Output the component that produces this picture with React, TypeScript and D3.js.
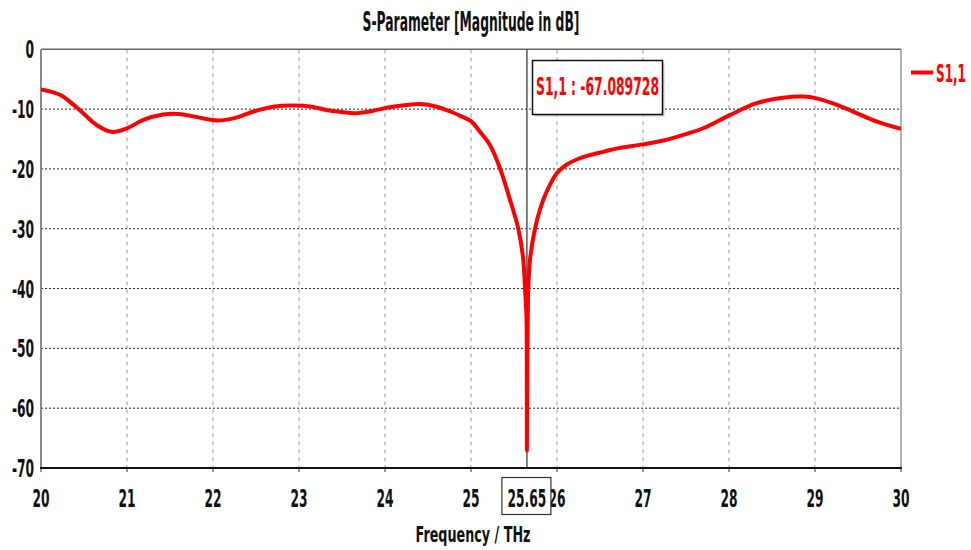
import React from 'react';
import * as d3 from 'd3';

// S1,1 magnitude (THz, dB)
const freq = [
  20.0, 20.22, 20.38, 20.49, 20.65, 20.82, 21.0, 21.19, 21.42, 21.6, 21.8, 22.06,
  22.25, 22.47, 22.7, 22.93, 23.15, 23.32, 23.5, 23.65, 23.85, 24.05, 24.25, 24.41,
  24.6, 24.76, 24.9, 25.0, 25.1, 25.22, 25.34, 25.45, 25.55, 25.608, 25.628,
  25.645, 25.649, 25.65, 25.655, 25.66, 25.666, 25.686, 25.744, 25.8, 25.88, 26.0,
  26.11, 26.25, 26.38, 26.55, 26.69, 27.0, 27.25, 27.47, 27.7, 28.01, 28.32, 28.63,
  28.86, 29.02, 29.2, 29.41, 29.72, 30.0,
];
const s11 = [
  -6.7, -7.6, -9.3, -10.7, -12.7, -13.8, -13.2, -11.8, -10.9, -10.8, -11.3, -11.9,
  -11.5, -10.4, -9.6, -9.4, -9.6, -10.15, -10.5, -10.7, -10.3, -9.7, -9.3, -9.15,
  -9.6, -10.4, -11.3, -12.0, -13.7, -16.0, -20.0, -25.0, -30.0, -35.2, -40.0,
  -44.7, -55.0, -67.089728, -54.0, -44.7, -40.0, -35.2, -30.0, -26.9, -23.8, -20.7,
  -19.3, -18.3, -17.7, -17.1, -16.6, -15.9, -15.2, -14.3, -13.2, -11.0, -9.0, -8.1,
  -7.9, -8.2, -9.0, -10.2, -12.1, -13.3,
];

const xTicks = [20, 21, 22, 23, 24, 25, 26, 27, 28, 29, 30];
const yTicks = [0, -10, -20, -30, -40, -50, -60, -70];
const markerFreq = 25.65;
const markerValue = -67.089728;

const FONT = "'DejaVu Sans', sans-serif";
const NUM_SX = 0.49;

function Num({ x, y, anchor, children }: { x: number; y: number; anchor: string; children: React.ReactNode }) {
  return (
    <text
      transform={`translate(${x},${y}) scale(${NUM_SX},1)`}
      textAnchor={anchor}
      fontFamily={FONT}
      fontWeight="bold"
      fontSize={25}
      fill="#111"
    >
      {children}
    </text>
  );
}

export default function App() {
  const left = 41, right = 901, top = 49.3, bottom = 468;
  const x = d3.scaleLinear().domain([20, 30]).range([left, right]);
  const y = d3.scaleLinear().domain([0, -70]).range([top, bottom]);

  const pts = freq.map((f, i) => [f, s11[i]] as [number, number]);
  const line = d3
    .line<[number, number]>()
    .x((d) => x(d[0]))
    .y((d) => y(d[1]))
    .curve(d3.curveCatmullRom.alpha(0.5));

  const mx = x(markerFreq);

  return (
    <svg
      width={971}
      height={550}
      style={{ position: 'absolute', left: 0, top: 0, background: '#fff' }}
    >
      <defs>
        <clipPath id="plot">
          <rect x={left} y={top - 3} width={right - left} height={bottom - top + 3} />
        </clipPath>
      </defs>

      <text
        x={471}
        y={31}
        textAnchor="middle"
        fontFamily={FONT}
        fontWeight="bold"
        fontSize={26}
        textLength={217}
        lengthAdjust="spacingAndGlyphs"
        fill="#111"
      >
        S-Parameter [Magnitude in dB]
      </text>

      {/* grid */}
      {yTicks.slice(1, -1).map((t) => (
        <line key={'h' + t} x1={left} x2={right} y1={y(t)} y2={y(t)} stroke="#222" strokeWidth={1} strokeDasharray="2,2" />
      ))}
      {xTicks.slice(1, -1).map((t) => (
        <line key={'v' + t} x1={x(t)} x2={x(t)} y1={top} y2={bottom} stroke="#999" strokeWidth={1} strokeDasharray="4,4" />
      ))}

      {/* frame */}
      <line x1={left} x2={right} y1={top} y2={top} stroke="#666" strokeWidth={1.5} />
      <line x1={right} x2={right} y1={top} y2={bottom} stroke="#999" strokeWidth={1.5} />
      <line x1={left} x2={left} y1={top} y2={bottom} stroke="#888" strokeWidth={2} />

      {/* marker line */}
      <line x1={mx} x2={mx} y1={top} y2={bottom} stroke="#555" strokeWidth={1.5} />

      <path d={line(pts) ?? ''} fill="none" stroke="#ff0000" strokeWidth={4} strokeLinejoin="round" clipPath="url(#plot)" />

      <line x1={left - 1} x2={right + 1} y1={bottom} y2={bottom} stroke="#111" strokeWidth={2} />
      {xTicks.map((t) => (
        <line key={'t' + t} x1={x(t)} x2={x(t)} y1={bottom} y2={bottom + 4} stroke="#333" strokeWidth={1} />
      ))}

      {/* y tick labels */}
      {yTicks.map((t) => (
        <Num key={'yl' + t} x={34} y={y(t) + 9} anchor="end">
          {String(t)}
        </Num>
      ))}

      {/* x tick labels */}
      {xTicks.map((t) => (
        <Num key={'xl' + t} x={x(t)} y={507} anchor="middle">
          {String(t)}
        </Num>
      ))}

      {/* marker frequency label */}
      <rect x={mx - 25} y={477.5} width={49} height={37} fill="#fff" stroke="#333" strokeWidth={1.2} />
      <Num x={mx} y={507} anchor="middle">
        {String(markerFreq)}
      </Num>

      {/* marker value box */}
      <rect x={534.5} y={62.5} width={130} height={54} fill="#ccc" />
      <rect x={532.5} y={60.5} width={130} height={54} fill="#fff" stroke="#111" strokeWidth={1.5} />
      <text
        x={597.5}
        y={95}
        textAnchor="middle"
        fontFamily={FONT}
        fontWeight="bold"
        fontSize={25}
        textLength={123}
        lengthAdjust="spacingAndGlyphs"
        fill="#ff0000"
      >
        {`S1,1 : ${markerValue}`}
      </text>

      {/* legend */}
      <line x1={911} x2={933} y1={72.5} y2={72.5} stroke="#ff0000" strokeWidth={4} />
      <text
        x={936}
        y={82}
        fontFamily={FONT}
        fontWeight="bold"
        fontSize={25}
        textLength={30}
        lengthAdjust="spacingAndGlyphs"
        fill="#ff0000"
      >
        S1,1
      </text>

      {/* x axis title */}
      <text
        x={473}
        y={542}
        textAnchor="middle"
        fontFamily={FONT}
        fontWeight="bold"
        fontSize={21}
        textLength={115}
        lengthAdjust="spacingAndGlyphs"
        fill="#111"
      >
        Frequency / THz
      </text>
    </svg>
  );
}
